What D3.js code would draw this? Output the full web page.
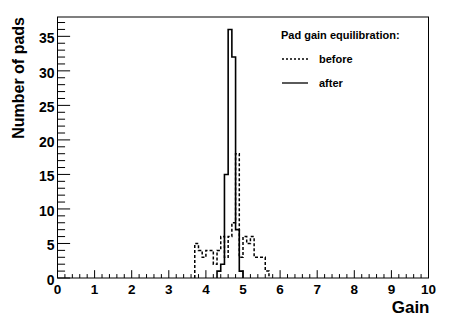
<!DOCTYPE html>
<html>
<head>
<meta charset="utf-8">
<script src="https://cdn.jsdelivr.net/npm/d3@7"></script>
<style>
  body { margin: 0; background: #fff; }
  svg { display: block; font-family: "Liberation Sans", Arial, Helvetica, sans-serif; font-weight: bold; }
</style>
</head>
<body>
<svg id="chart" width="463" height="319"></svg>
<script>
"use strict";

// bin lower edges (bin width 0.1) and pad counts
const beforeEdges = [3.7, 3.8, 3.9, 4.0, 4.1, 4.2, 4.3, 4.4, 4.5, 4.6, 4.7, 4.8, 4.9, 5.0, 5.1, 5.2, 5.3, 5.4, 5.5, 5.6];
const beforeCounts = [5, 4, 3, 4, 4, 2, 4, 6, 3, 6, 8, 18, 3, 6, 5, 6, 3, 3, 3, 1];
const afterEdges = [4.3, 4.4, 4.5, 4.6, 4.7, 4.8, 4.9];
const afterCounts = [1, 2, 15, 36, 32, 7, 1];
const binWidth = 0.1;

const xTicks = [0, 1, 2, 3, 4, 5, 6, 7, 8, 9, 10];
const yTicks = [0, 5, 10, 15, 20, 25, 30, 35];
const legendTitle = "Pad gain equilibration:";
const seriesNames = ["before", "after"];

const svg = d3.select("#chart");
const width = +svg.attr("width");
const height = +svg.attr("height");
const margin = { left: 57.5, right: 34.5, top: 17, bottom: 41 };

const x = d3.scaleLinear().domain([0, 10]).range([margin.left, width - margin.right]);
const y = d3.scaleLinear().domain([0, 37.8]).range([height - margin.bottom, margin.top]);

const frameW = x.range()[1] - x.range()[0];
const frameH = y.range()[0] - y.range()[1];

// frame
svg.append("rect")
  .attr("x", margin.left).attr("y", margin.top)
  .attr("width", frameW).attr("height", frameH)
  .attr("fill", "none").attr("stroke", "#000").attr("stroke-width", 1);

// x axis ticks (inside, pointing up)
const xMinor = d3.range(0, 10.001, 0.2);
const xMajorLen = 0.03 * frameH;
svg.append("g").selectAll("line")
  .data(xMinor)
  .join("line")
  .attr("x1", d => x(d)).attr("x2", d => x(d))
  .attr("y1", y(0))
  .attr("y2", d => y(0) - (Math.abs(d - Math.round(d)) < 1e-6 ? xMajorLen : xMajorLen / 2))
  .attr("stroke", "#000");

svg.append("g").selectAll("text")
  .data(xTicks)
  .join("text")
  .attr("x", d => x(d))
  .attr("y", y(0) + 15.5)
  .attr("text-anchor", "middle")
  .attr("font-size", 13.5)
  .text(d => d);

// y axis ticks (inside, pointing right)
const yMinor = d3.range(0, 38, 1);
const yMajorLen = 0.034 * frameW;
svg.append("g").selectAll("line")
  .data(yMinor)
  .join("line")
  .attr("y1", d => y(d)).attr("y2", d => y(d))
  .attr("x1", x(0))
  .attr("x2", d => x(0) + (d % 5 === 0 ? yMajorLen : yMajorLen * 0.6))
  .attr("stroke", "#000");

svg.append("g").selectAll("text")
  .data(yTicks)
  .join("text")
  .attr("x", x(0) - 3)
  .attr("y", d => y(d) + 7)
  .attr("text-anchor", "end")
  .attr("font-size", 14)
  .text(d => d);

// axis titles
svg.append("text")
  .attr("x", x.range()[1] + 1)
  .attr("y", 313)
  .attr("text-anchor", "end")
  .attr("font-size", 17)
  .text("Gain");

svg.append("text")
  .attr("transform", `translate(24,${margin.top}) rotate(-90)`)
  .attr("text-anchor", "end")
  .attr("font-size", 16)
  .text("Number of pads");

// histograms as step outlines
function histPoints(edges, counts) {
  const pts = [[edges[0], 0]];
  edges.forEach((e, i) => pts.push([e, counts[i]]));
  pts.push([edges[edges.length - 1] + binWidth, 0]);
  return pts;
}

const step = d3.line()
  .x(d => x(d[0]))
  .y(d => y(d[1]))
  .curve(d3.curveStepAfter);

svg.append("path")
  .attr("d", step(histPoints(beforeEdges, beforeCounts)))
  .attr("fill", "none")
  .attr("stroke", "#000")
  .attr("stroke-width", 1.5)
  .attr("stroke-dasharray", "3,2");

svg.append("path")
  .attr("d", step(histPoints(afterEdges, afterCounts)))
  .attr("fill", "none")
  .attr("stroke", "#000")
  .attr("stroke-width", 1.6);

// legend
const legend = svg.append("g").attr("font-size", 11);
legend.append("text").attr("x", 281).attr("y", 39).text(legendTitle);

const legendRows = [
  { name: seriesNames[0], dash: "2,2", y: 59 },
  { name: seriesNames[1], dash: null, y: 83 }
];
legendRows.forEach(r => {
  legend.append("line")
    .attr("x1", 282).attr("x2", 308)
    .attr("y1", r.y).attr("y2", r.y)
    .attr("stroke", "#000")
    .attr("stroke-width", 1.3)
    .attr("stroke-dasharray", r.dash);
  legend.append("text")
    .attr("x", 319).attr("y", r.y + 4)
    .text(r.name);
});
</script>
</body>
</html>
